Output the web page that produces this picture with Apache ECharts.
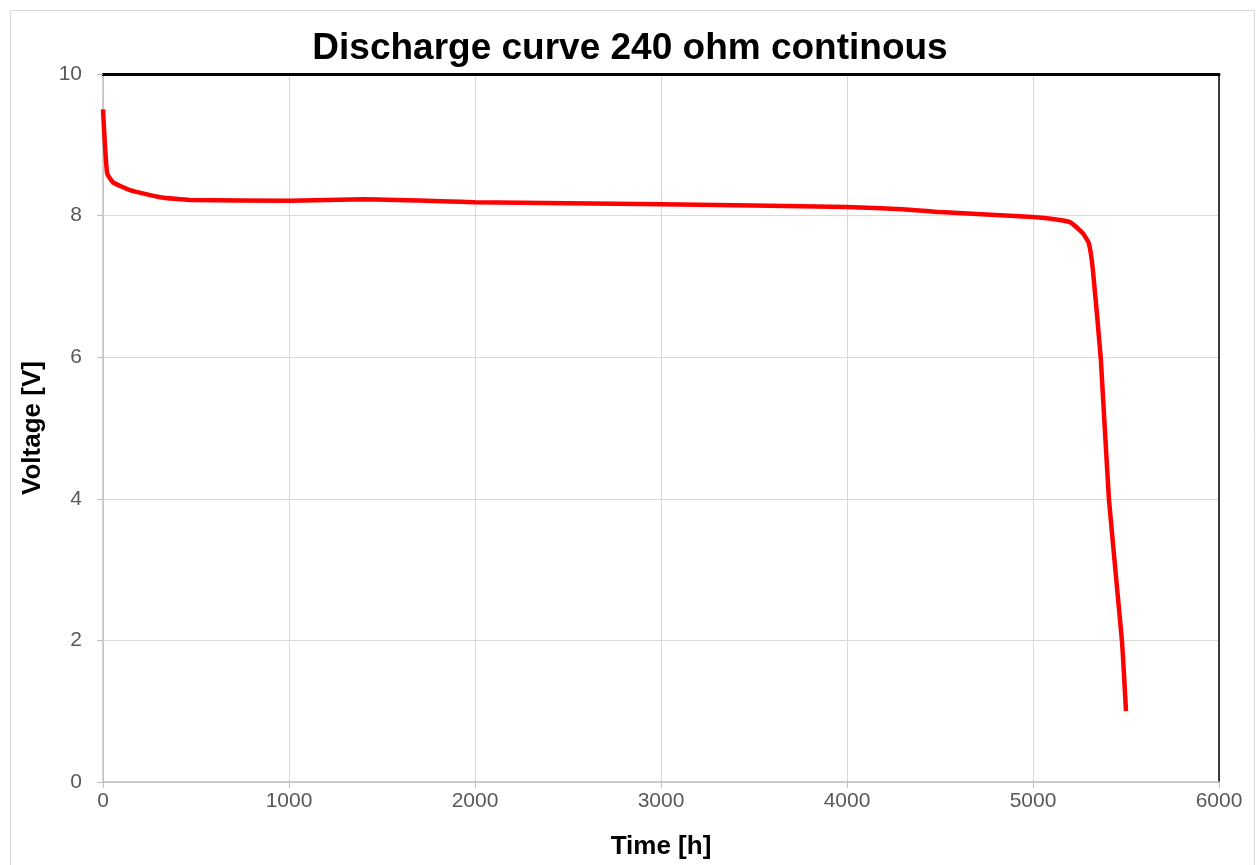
<!DOCTYPE html>
<html>
<head>
<meta charset="utf-8">
<script src="https://cdn.jsdelivr.net/npm/echarts@6/dist/echarts.min.js"></script>
<style>
  html, body { margin: 0; padding: 0; background: #fff; }
  #main { width: 1260px; height: 865px; }
</style>
</head>
<body>
<div id="main"></div>
<script>
// discharge data
const timeHours = [0, 22, 54, 145, 307, 468, 1006, 1400, 2000, 3000, 4000, 4300, 4500, 5000, 5134, 5204, 5268, 5300, 5322, 5365, 5408, 5478, 5500];
const voltage = [9.5, 8.6, 8.47, 8.36, 8.26, 8.22, 8.21, 8.23, 8.19, 8.16, 8.12, 8.09, 8.05, 7.98, 7.94, 7.9, 7.75, 7.61, 7.23, 5.96, 4.0, 2.0, 1.0];
const xTicks = [0, 1000, 2000, 3000, 4000, 5000, 6000];
const yTicks = [0, 2, 4, 6, 8, 10];

const points = timeHours.map((t, i) => [t, voltage[i]]);

const chartDom = document.getElementById('main');
const myChart = echarts.init(chartDom);

const font = 'Liberation Sans, Arial, sans-serif';
const labelStyle = { color: '#595959', fontSize: 21, fontFamily: font };

const option = {
  backgroundColor: '#fff',
  animation: false,
  title: {
    text: 'Discharge curve 240 ohm continous',
    left: 'center',
    top: 25,
    textStyle: { fontSize: 37, fontWeight: 'bold', color: '#000', fontFamily: font }
  },
  graphic: [{
    type: 'rect',
    shape: { x: 10.5, y: 10.5, width: 1244, height: 900 },
    style: { fill: 'none', stroke: '#d9d9d9', lineWidth: 1 },
    silent: true
  }],
  grid: { left: 103, right: 41, top: 74, bottom: 83 },
  xAxis: [{
    type: 'value',
    min: xTicks[0],
    max: xTicks[xTicks.length - 1],
    interval: 1000,
    name: 'Time [h]',
    nameLocation: 'middle',
    nameGap: 52,
    nameTextStyle: { fontSize: 26, fontWeight: 'bold', color: '#000', fontFamily: font },
    axisLine: { lineStyle: { color: '#bfbfbf', width: 1.5 } },
    axisTick: { show: true, length: 6, lineStyle: { color: '#bfbfbf' } },
    axisLabel: Object.assign({ margin: 9, formatter: v => String(v) }, labelStyle),
    splitLine: { show: true, lineStyle: { color: '#d9d9d9', width: 1 } }
  }, {
    type: 'value',
    position: 'top',
    min: 0, max: 6000,
    axisLine: { show: true, onZero: false, lineStyle: { color: '#000', width: 3 } },
    axisTick: { show: false },
    axisLabel: { show: false },
    splitLine: { show: false }
  }],
  yAxis: [{
    type: 'value',
    min: yTicks[0],
    max: yTicks[yTicks.length - 1],
    interval: 2,
    name: 'Voltage [V]',
    nameLocation: 'middle',
    nameGap: 57,
    nameTextStyle: { fontSize: 26, fontWeight: 'bold', color: '#000', fontFamily: font },
    axisLine: { show: true, lineStyle: { color: '#bfbfbf', width: 1.5 } },
    axisTick: { show: true, length: 6, lineStyle: { color: '#bfbfbf' } },
    axisLabel: Object.assign({ margin: 21 }, labelStyle),
    splitLine: { show: true, lineStyle: { color: '#d9d9d9', width: 1 } }
  }, {
    type: 'value',
    position: 'right',
    min: 0, max: 10,
    axisLine: { show: true, onZero: false, lineStyle: { color: '#000', width: 1.5 } },
    axisTick: { show: false },
    axisLabel: { show: false },
    splitLine: { show: false }
  }],
  series: [{
    type: 'line',
    data: points,
    smooth: 0.15,
    showSymbol: false,
    lineStyle: { color: '#ff0000', width: 4.5 },
    itemStyle: { color: '#ff0000' },
    z: 5
  }]
};
myChart.setOption(option);
</script>
</body>
</html>
